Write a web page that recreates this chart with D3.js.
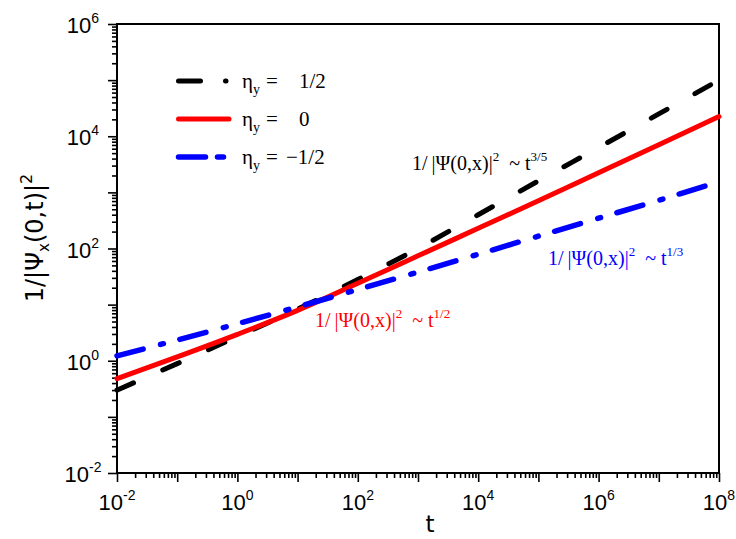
<!DOCTYPE html>
<html>
<head>
<meta charset="utf-8">
<script src="https://cdn.jsdelivr.net/npm/d3@7"></script>
<style>
  body { margin: 0; background: #fff; }
  svg { display: block; }
</style>
</head>
<body>
<script>
// one value per decade of t
const tValues = [1e-2, 1e-1, 1e0, 1e1, 1e2, 1e3, 1e4, 1e5, 1e6, 1e7, 1e8];
const etaHalf = [0.30, 0.89, 2.7, 8.3, 28, 100, 400, 1600, 6300, 25000, 100000];
const etaZero = [0.48, 1.17, 2.95, 7.9, 24, 74, 229, 708, 2240, 7080, 22400];
const etaMinusHalf = [1.22, 2.34, 4.57, 9.1, 18.6, 38, 79, 166, 347, 724, 1550];

const xLabelExps = [-2, 0, 2, 4, 6, 8];
const yLabelExps = [-2, 0, 2, 4, 6];
const legendLabels = ['1/2', '0', '\u22121/2'];

const width = 736;
const height = 539;
const margin = {top: 24, right: 17, bottom: 66, left: 117};

const x = d3.scaleLog()
  .domain([1e-2, 1e8])
  .range([margin.left, width - margin.right]);
const y = d3.scaleLog()
  .domain([1e-2, 1e6])
  .range([height - margin.bottom, margin.top]);

const svg = d3.select('body')
  .append('svg')
    .attr('width', width)
    .attr('height', height);

// tick values: every 1..9 times each decade
function logTicks(lo, hi) {
  const out = [];
  for (let e = lo; e < hi; e++) {
    for (let k = 1; k < 10; k++) out.push(k * Math.pow(10, e));
  }
  out.push(Math.pow(10, hi));
  return out;
}
const isDecade = v => Math.abs(Math.log10(v) - Math.round(Math.log10(v))) < 1e-9;

const xAxis = svg.append('g')
  .attr('transform', `translate(0,${y.range()[0]})`)
  .call(d3.axisBottom(x).tickValues(logTicks(-2, 8)).tickFormat('').tickSizeOuter(0));
xAxis.selectAll('.tick line')
  .attr('y2', d => isDecade(d) ? 9 : 5);

const yAxis = svg.append('g')
  .attr('transform', `translate(${x.range()[0]},0)`)
  .call(d3.axisLeft(y).tickValues(logTicks(-2, 6)).tickFormat('').tickSizeOuter(0));
yAxis.selectAll('.tick line')
  .attr('x2', d => isDecade(d) ? -9 : -5);

svg.selectAll('.domain').remove();
svg.selectAll('.tick line').attr('stroke', '#000').attr('stroke-width', 1.6);

// frame
svg.append('rect')
  .attr('x', x.range()[0])
  .attr('y', y.range()[1])
  .attr('width', x.range()[1] - x.range()[0])
  .attr('height', y.range()[0] - y.range()[1])
  .attr('fill', 'none')
  .attr('stroke', '#000')
  .attr('stroke-width', 2);

function powerLabel(sel, exp) {
  sel.append('tspan').text('10');
  sel.append('tspan')
    .attr('dy', -10)
    .attr('font-size', 14)
    .text(exp < 0 ? '-' + (-exp) : exp);
}

svg.append('g')
  .selectAll('text')
  .data(xLabelExps)
  .enter().append('text')
    .attr('x', d => x(Math.pow(10, d)))
    .attr('y', 510)
    .attr('text-anchor', 'middle')
    .attr('font-family', 'Liberation Sans, Arial, sans-serif')
    .attr('font-size', 22)
    .each(function(d) { powerLabel(d3.select(this), d); });

svg.append('g')
  .selectAll('text')
  .data(yLabelExps)
  .enter().append('text')
    .attr('x', 83)
    .attr('y', d => y(Math.pow(10, d)) + 9)
    .attr('text-anchor', 'middle')
    .attr('font-family', 'Liberation Sans, Arial, sans-serif')
    .attr('font-size', 22)
    .each(function(d) { powerLabel(d3.select(this), d); });

// axis titles
svg.append('text')
  .attr('x', 430)
  .attr('y', 532)
  .attr('text-anchor', 'middle')
  .attr('font-family', 'DejaVu Sans, sans-serif')
  .attr('font-size', 23)
  .text('t');

const yTitle = svg.append('text')
  .attr('transform', 'translate(43,238) rotate(-90)')
  .attr('text-anchor', 'middle')
  .attr('font-family', 'DejaVu Sans, sans-serif')
  .attr('font-size', 24);
yTitle.append('tspan').text('1/|\u03A8');
yTitle.append('tspan').attr('font-size', 15).attr('dy', 6).text('x');
yTitle.append('tspan').attr('dy', -6).text('(0,t)|');
yTitle.append('tspan').attr('font-size', 16).attr('dy', -11).text('2');

// curves
const series = [
  {values: etaHalf, color: '#000', width: 5, dash: '18,32'},
  {values: etaZero, color: '#ff0000', width: 5, dash: null},
  {values: etaMinusHalf, color: '#0000ff', width: 5.5, dash: '27,18,3,17'}
];

const line = d3.line()
  .x(d => x(d[0]))
  .y(d => y(d[1]))
  .curve(d3.curveMonotoneX);

const plot = svg.append('g');
series.forEach(s => {
  plot.append('path')
    .datum(tValues.map((t, i) => [t, s.values[i]]))
    .attr('d', line)
    .attr('fill', 'none')
    .attr('stroke', s.color)
    .attr('stroke-width', s.width)
    .attr('stroke-linecap', 'round')
    .attr('stroke-dasharray', s.dash);
});

// legend
const legendDash = ['22,25,0.5,100', null, '27,12,6,100'];
const legend = svg.append('g');
series.forEach((s, i) => {
  const ly = 81 + i * 38;
  legend.append('line')
    .attr('x1', 178.5).attr('x2', 229)
    .attr('y1', ly).attr('y2', ly)
    .attr('stroke', s.color)
    .attr('stroke-width', s.width)
    .attr('stroke-linecap', 'round')
    .attr('stroke-dasharray', legendDash[i]);
  const t = legend.append('text')
    .attr('x', 242)
    .attr('y', ly + 7)
    .attr('font-family', 'Liberation Serif, Times New Roman, serif')
    .attr('font-size', 21);
  t.append('tspan').text('\u03B7');
  t.append('tspan').attr('font-size', 14).attr('dy', 6).text('y');
  t.append('tspan').attr('dy', -6).attr('x', 266).text('=');
  t.append('tspan').attr('x', i === 2 ? 286 : 299).text(legendLabels[i]);
});

// annotations
const notes = [
  {x: 412, y: 170, color: '#000', exp: '3/5'},
  {x: 548, y: 265, color: '#0000ff', exp: '1/3'},
  {x: 315, y: 327, color: '#ff0000', exp: '1/2'}
];
notes.forEach(n => {
  const t = svg.append('text')
    .attr('x', n.x)
    .attr('y', n.y)
    .attr('fill', n.color)
    .attr('font-family', 'Liberation Serif, Times New Roman, serif')
    .attr('font-size', 20);
  t.append('tspan').text('1/\u2009|\u03A8(0,x)|');
  t.append('tspan').attr('font-size', 13).attr('dy', -9).text('2');
  t.append('tspan').attr('dy', 9).text('\u2002~ t');
  t.append('tspan').attr('font-size', 13).attr('dy', -9).text(n.exp);
});
</script>
</body>
</html>
